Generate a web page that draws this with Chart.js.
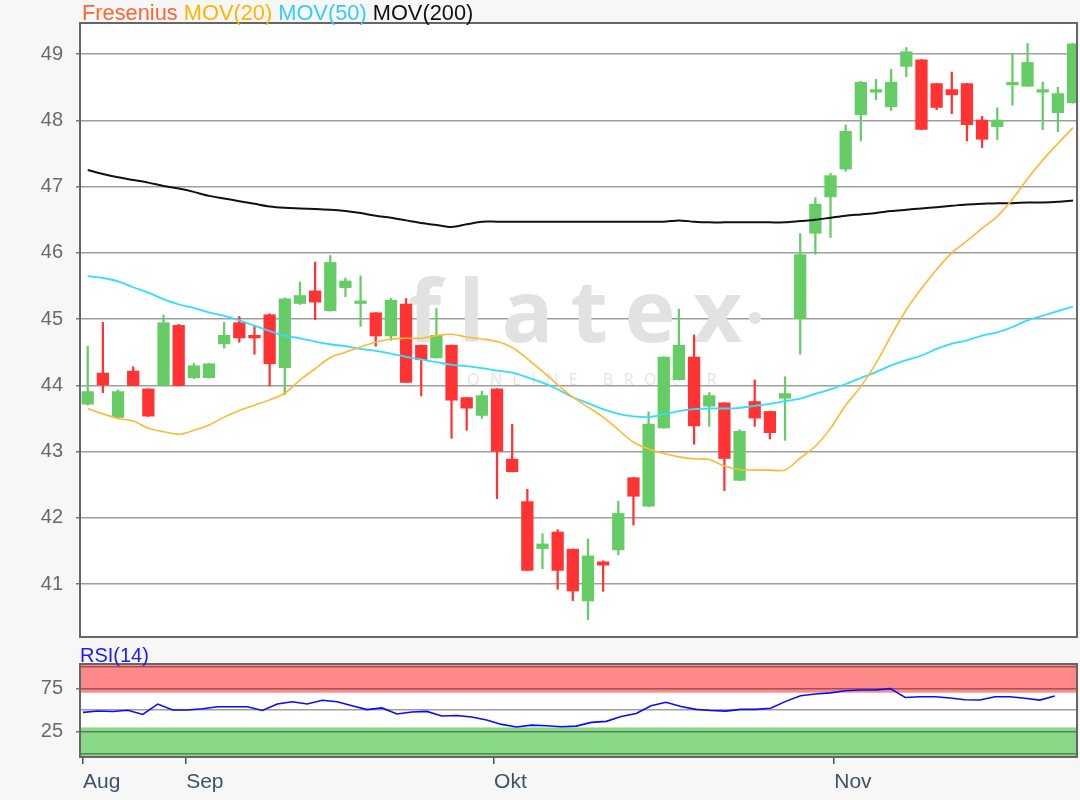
<!DOCTYPE html>
<html>
<head>
<meta charset="utf-8">
<script src="https://cdn.jsdelivr.net/npm/chart.js@4.4.0/dist/chart.umd.min.js"></script>
<style>
  body { margin: 0; width: 1080px; height: 800px; background: #f7f7f7; position: relative; overflow: hidden;
         font-family: "Liberation Sans", Arial, sans-serif; }
  #main { position: absolute; left: 0; top: 0; }
  #rsi { position: absolute; left: 0; top: 640px; }
  #title { position: absolute; left: 82px; top: 3px; font-size: 21.8px; line-height: 20px; white-space: pre; }
  #rsiTitle { position: absolute; left: 80px; top: 645px; font-size: 20px; line-height: 20px; color: #1a1aff; }
</style>
</head>
<body>
<canvas id="main" width="1080" height="640"></canvas>
<canvas id="rsi" width="1080" height="160"></canvas>
<div id="title"><span style="color:#ff6633">Fresenius</span> <span style="color:#ffb400">MOV(20)</span> <span style="color:#33ccff">MOV(50)</span> <span style="color:#111">MOV(200)</span></div>
<div id="rsiTitle">RSI(14)</div>
<script>
// daily candles
const open = [43.71, 44.19, 43.51, 44.22, 43.95, 43.99, 44.91, 44.11, 44.11, 44.62,
  44.95, 44.76, 45.07, 44.26, 45.23, 45.43, 45.12, 45.47, 45.23, 45.10,
  44.74, 45.23, 44.61, 44.41, 44.61, 43.82, 43.54, 43.95, 42.89, 42.25,
  41.53, 41.79, 41.53, 40.74, 41.34, 41.51, 42.61, 42.17, 43.35, 44.08,
  44.43, 43.68, 43.74, 42.56, 43.76, 43.61, 43.80, 45.00, 46.29, 46.84,
  47.26, 48.08, 48.42, 48.20, 48.81, 48.92, 48.56, 48.47, 48.56, 48.01,
  47.90, 48.53, 48.51, 48.42, 48.11, 48.26];
const high = [44.59, 44.95, 43.93, 44.28, 43.95, 45.06, 44.92, 44.33, 44.33, 44.95,
  45.04, 44.89, 45.08, 45.32, 45.56, 45.86, 45.96, 45.62, 45.65, 45.10,
  45.31, 45.31, 44.61, 45.16, 44.61, 43.82, 43.91, 43.95, 43.41, 42.43,
  41.76, 41.82, 41.53, 41.68, 41.35, 42.25, 42.61, 43.60, 44.43, 45.15,
  44.76, 43.89, 43.74, 43.33, 44.08, 43.61, 44.13, 46.29, 46.83, 47.20,
  47.93, 48.59, 48.62, 48.77, 49.10, 48.92, 48.56, 48.73, 48.56, 48.06,
  48.19, 49.00, 49.16, 48.58, 48.50, 49.16];
const low = [43.70, 43.89, 43.50, 43.99, 43.53, 43.99, 43.99, 44.10, 44.11, 44.56,
  44.65, 44.47, 43.99, 43.86, 45.22, 44.99, 45.12, 45.34, 44.89, 44.59,
  44.68, 44.04, 43.84, 44.41, 43.20, 43.32, 43.50, 42.29, 42.69, 41.20,
  41.23, 40.92, 40.75, 40.46, 40.89, 41.44, 41.89, 42.17, 43.35, 44.08,
  43.11, 43.38, 42.41, 42.56, 43.38, 43.19, 43.17, 44.47, 45.98, 46.23,
  47.23, 47.69, 48.31, 48.15, 48.66, 47.86, 48.16, 48.10, 47.69, 47.59,
  47.71, 48.23, 48.51, 47.86, 47.83, 48.26];
const close = [43.91, 44.00, 43.91, 43.99, 43.53, 44.95, 43.99, 44.30, 44.33, 44.76,
  44.71, 44.71, 44.32, 45.31, 45.36, 45.25, 45.86, 45.58, 45.28, 44.74,
  45.29, 44.04, 44.38, 44.76, 43.77, 43.65, 43.85, 43.00, 42.69, 41.20,
  41.61, 41.20, 40.89, 41.43, 41.28, 42.07, 42.32, 43.42, 44.43, 44.61,
  43.38, 43.85, 42.89, 43.31, 43.50, 43.28, 43.88, 45.98, 46.74, 47.17,
  47.84, 48.58, 48.47, 48.58, 49.04, 47.86, 48.19, 48.38, 47.93, 47.71,
  48.01, 48.58, 48.88, 48.47, 48.41, 49.16];

const mov20 = [43.65, 43.57, 43.50, 43.46, 43.35, 43.30, 43.26, 43.32, 43.40, 43.52,
  43.62, 43.70, 43.78, 43.88, 44.08, 44.25, 44.42, 44.50, 44.58, 44.65,
  44.70, 44.71, 44.71, 44.75, 44.77, 44.73, 44.70, 44.66, 44.57, 44.40,
  44.21, 44.01, 43.82, 43.67, 43.52, 43.33, 43.14, 43.04, 42.97, 42.92,
  42.89, 42.88, 42.78, 42.73, 42.72, 42.72, 42.72, 42.90, 43.08, 43.35,
  43.70, 43.98, 44.33, 44.75, 45.14, 45.46, 45.75, 46.00, 46.18, 46.37,
  46.55, 46.81, 47.12, 47.40, 47.65, 47.89];
const mov50 = [45.65, 45.62, 45.57, 45.48, 45.40, 45.30, 45.22, 45.17, 45.10, 45.05,
  44.98, 44.90, 44.82, 44.75, 44.71, 44.66, 44.62, 44.59, 44.55, 44.52,
  44.48, 44.43, 44.39, 44.35, 44.31, 44.29, 44.26, 44.22, 44.19, 44.12,
  44.04, 43.94, 43.82, 43.73, 43.64, 43.57, 43.53, 43.52, 43.56, 43.61,
  43.64, 43.65, 43.65, 43.66, 43.69, 43.72, 43.76, 43.80, 43.87, 43.94,
  44.02, 44.11, 44.20, 44.30, 44.38, 44.45, 44.55, 44.63, 44.68, 44.75,
  44.80, 44.88, 44.98, 45.05, 45.12, 45.19];
const mov200 = [47.25, 47.19, 47.14, 47.10, 47.06, 47.01, 46.97, 46.92, 46.86, 46.82,
  46.78, 46.74, 46.70, 46.68, 46.67, 46.66, 46.65, 46.63, 46.60, 46.56,
  46.53, 46.49, 46.45, 46.42, 46.39, 46.43, 46.47, 46.47, 46.47, 46.47,
  46.47, 46.47, 46.47, 46.47, 46.47, 46.47, 46.47, 46.47, 46.47, 46.49,
  46.47, 46.46, 46.46, 46.46, 46.46, 46.46, 46.46, 46.48, 46.50, 46.53,
  46.56, 46.58, 46.60, 46.63, 46.65, 46.67, 46.69, 46.71, 46.73, 46.74,
  46.75, 46.75, 46.76, 46.76, 46.77, 46.79];

const rsi14 = [47.3, 49.0, 48.3, 49.8, 45.0, 56.9, 50.0, 50.0, 51.5, 53.8,
  53.8, 53.8, 49.5, 56.9, 59.6, 57.0, 61.3, 59.5, 55.0, 50.5,
  52.5, 45.5, 47.8, 48.5, 43.1, 43.8, 42.0, 38.5, 33.5, 30.5,
  32.7, 32.0, 30.8, 31.5, 35.8, 37.0, 42.6, 46.0, 55.0, 58.9,
  54.0, 50.8, 49.5, 48.8, 50.8, 50.8, 52.0, 60.0, 66.5, 68.4,
  69.8, 72.2, 73.0, 73.0, 74.6, 64.5, 65.4, 65.4, 63.8, 61.8,
  61.5, 65.4, 65.4, 63.6, 61.5, 66.1];

const priceTicks = [41, 42, 43, 44, 45, 46, 47, 48, 49];
const rsiTicks = [0, 25, 50, 75, 100];
const rsiLabeled = [25, 75];
const rsiBands = [30, 70];
const monthLabels = ["Aug", "Sep", "Okt", "Nov"];
const monthTickAt = [0, 6.9, 27.5, 50.25];

const UP = "#66cc66";
const DOWN = "#ff3333";
const candleColors = close.map((c, i) => (c >= open[i] ? UP : DOWN));
const GRID = "rgba(0,0,0,0.38)";
const FONT = "'Liberation Sans', Arial, sans-serif";

function pts(arr) {
  return arr.map((v, i) => ({ x: i, y: v }));
}

// keep the y axis at a fixed width and stop it from padding the plot
function fixedY(s) {
  s.width = 80;
  s.paddingTop = 0;
  s.paddingBottom = 0;
}

// white plot area + dark frame
const frame = {
  id: "frame",
  beforeDraw(chart, args, opts) {
    const { ctx, chartArea: a } = chart;
    ctx.save();
    ctx.fillStyle = "#fff";
    ctx.fillRect(a.left, a.top, a.width, a.height);
    if (opts.bands) {
      const y = chart.scales.y;
      ctx.fillStyle = "#ff8888";
      ctx.fillRect(a.left, a.top, a.width, y.getPixelForValue(rsiBands[1]) - a.top);
      ctx.fillStyle = "#88d888";
      const g = y.getPixelForValue(rsiBands[0]);
      ctx.fillRect(a.left, g, a.width, a.bottom - g);
    }
    ctx.restore();
  },
  afterDraw(chart) {
    const { ctx, chartArea: a } = chart;
    ctx.save();
    ctx.strokeStyle = "#666";
    ctx.lineWidth = 2;
    ctx.strokeRect(a.left, a.top, a.width, a.height);
    ctx.restore();
  },
};

// faint broker logo behind the candles
const watermark = {
  id: "watermark",
  beforeDatasetsDraw(chart) {
    const ctx = chart.ctx;
    ctx.save();
    ctx.fillStyle = "#e2e2e2";
    ctx.font = "bold 86px 'Open Sans'";
    ctx.textBaseline = "alphabetic";
    ctx.letterSpacing = "17px";
    ctx.fillText("flatex", 408, 342);
    ctx.beginPath();
    ctx.arc(755, 318, 6, 0, Math.PI * 2);
    ctx.fill();
    ctx.fillStyle = "#e4e4e4";
    ctx.font = "16px 'Open Sans'";
    ctx.letterSpacing = "10.5px";
    ctx.fillText("ONLINE BROKER", 467, 385);
    ctx.restore();
  },
};

new Chart(document.getElementById("main"), {
  type: "bar",
  data: {
    datasets: [
      { type: "line", label: "MOV(20)", data: pts(mov20), borderColor: "#ffb833", borderWidth: 1.6,
        pointRadius: 0, tension: 0.3, order: 0 },
      { type: "line", label: "MOV(50)", data: pts(mov50), borderColor: "#33ddff", borderWidth: 1.8,
        pointRadius: 0, tension: 0.3, order: 0 },
      { type: "line", label: "MOV(200)", data: pts(mov200), borderColor: "#111", borderWidth: 2,
        pointRadius: 0, tension: 0.3, order: 0 },
      { label: "Fresenius", data: open.map((o, i) => ({ x: i, y: [o, close[i]] })),
        backgroundColor: candleColors, barPercentage: 0.9, categoryPercentage: 0.9,
        minBarLength: 3, grouped: false, order: 1 },
      { label: "range", data: low.map((l, i) => ({ x: i, y: [l, high[i]] })),
        backgroundColor: candleColors, barThickness: 1.6, grouped: false, order: 2 },
    ],
  },
  options: {
    responsive: false,
    animation: false,
    events: [],
    layout: { padding: { top: 23, right: 3, bottom: 3, left: 0 } },
    plugins: { legend: { display: false }, tooltip: { enabled: false }, frame: {} },
    scales: {
      x: { type: "linear", min: -0.51, max: 65.26, offset: false, display: false, grid: { offset: false } },
      y: {
        min: 40.2,
        max: 49.47,
        afterBuildTicks: (s) => { s.ticks = priceTicks.map((v) => ({ value: v })); },
        afterFit: fixedY,
        border: { display: false },
        grid: { color: GRID, lineWidth: 1.5, tickLength: 4, tickColor: "#777" },
        ticks: { padding: 13, autoSkip: false, color: "#6a6a6a", font: { family: FONT, size: 20 } },
      },
    },
  },
  plugins: [frame, watermark],
});

new Chart(document.getElementById("rsi"), {
  type: "line",
  data: {
    datasets: [
      { label: "RSI(14)", data: pts(rsi14), borderColor: "#0a0aff", borderWidth: 1.6,
        pointRadius: 0, tension: 0 },
    ],
  },
  options: {
    responsive: false,
    animation: false,
    events: [],
    layout: { padding: { top: 24, right: 3, bottom: 0, left: 0 } },
    plugins: { legend: { display: false }, tooltip: { enabled: false }, frame: { bands: true } },
    scales: {
      x: {
        type: "linear",
        min: -0.2,
        max: 66.49,
        afterBuildTicks: (s) => { s.ticks = monthTickAt.map((v) => ({ value: v })); },
        afterFit: (s) => { s.height = 43; s.paddingLeft = 0; s.paddingRight = 0; },
        border: { display: false },
        grid: { drawOnChartArea: false, tickLength: 7, tickColor: "#3f5266", lineWidth: 1.5 },
        ticks: {
          align: "start",
          autoSkip: false,
          maxRotation: 0,
          padding: 6,
          color: "#3f5266",
          font: { family: FONT, size: 21 },
          callback: (v, i) => monthLabels[i],
        },
      },
      y: {
        min: -4,
        max: 103,
        afterBuildTicks: (s) => { s.ticks = rsiTicks.map((v) => ({ value: v })); },
        afterFit: fixedY,
        border: { display: false },
        grid: {
          color: GRID,
          lineWidth: 1.5,
          tickLength: 4,
          tickColor: (c) => (rsiLabeled.includes(c.tick.value) ? "#777" : "transparent"),
        },
        ticks: {
          padding: 13,
          autoSkip: false,
          color: "#6a6a6a",
          font: { family: FONT, size: 20 },
          callback: (v) => (rsiLabeled.includes(v) ? v : ""),
        },
      },
    },
  },
  plugins: [frame],
});
</script>
</body>
</html>
